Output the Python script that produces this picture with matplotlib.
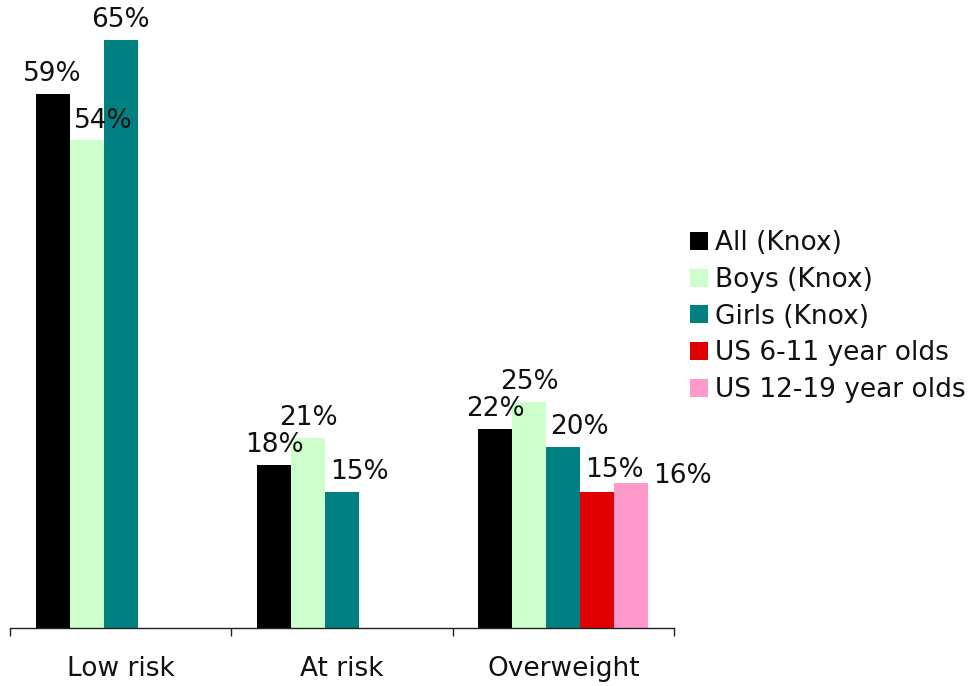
import matplotlib
matplotlib.use("Agg")
import matplotlib.pyplot as plt
from matplotlib.patches import Patch
import numpy as np

categories = ["Low risk", "At risk", "Overweight"]
series_names = ["All (Knox)", "Boys (Knox)", "Girls (Knox)", "US 6-11 year olds", "US 12-19 year olds"]
all_knox = [59, 18, 22]
boys_knox = [54, 21, 25]
girls_knox = [65, 15, 20]
us_6_11 = [None, None, 15]
us_12_19 = [None, None, 16]
series_values = [all_knox, boys_knox, girls_knox, us_6_11, us_12_19]
colors = ["#000000", "#CCFFCC", "#008080", "#E00000", "#FF99CC"]

# label nudges in pixels (dx, dy of baseline above bar top) -- layout only
label_nudge = {
    (0, 1): (17, 12),
    (1, 2): (17, 13),
    (2, 2): (16, 13),
    (2, 3): (17, 15),
    (2, 4): (51, 0),
}

W, H = 973, 686
fig = plt.figure(figsize=(W / 100, H / 100), dpi=100)
plt.rcParams["font.family"] = ["DejaVu Sans"]
FS = 19

px_per_pct = 9.046
ax_left, ax_right, ax_base = 10, 674, 628
ax = fig.add_axes([ax_left / W, (H - ax_base) / H, (ax_right - ax_left) / W, ax_base / H])
ax.set_xlim(-0.5, len(categories) - 0.5)
ax.set_ylim(0, ax_base / px_per_pct)

bw = 34 / ((ax_right - ax_left) / 3)
x = np.arange(len(categories))
nser = len(series_values)
for j, (vals, col, name) in enumerate(zip(series_values, colors, series_names)):
    for i, v in enumerate(vals):
        if v is None:
            continue
        xc = x[i] + (j - (nser - 1) / 2) * bw
        ax.bar(xc, v, width=bw, color=col, edgecolor="none", zorder=2)
        dx, dy = label_nudge.get((i, j), (0, 13))
        ax.annotate(f"{v}%", xy=(xc, v), xytext=(dx * 0.72, dy * 0.72),
                    textcoords="offset points", ha="center", va="baseline",
                    fontsize=FS, color="#111111", annotation_clip=False)

for s in ["left", "right", "top"]:
    ax.spines[s].set_visible(False)
ax.spines["bottom"].set_color("#222222")
ax.spines["bottom"].set_linewidth(1.0)
ax.set_yticks([])
ax.set_xticks(np.arange(-0.5, len(categories), 1.0))
ax.set_xticklabels([])
ax.tick_params(axis="x", which="major", direction="out", length=6, width=1.0, color="#222222")
ax.set_xticks(x, minor=True)
ax.set_xticklabels(categories, minor=True, fontsize=FS, color="#111111")
ax.tick_params(axis="x", which="minor", length=0, pad=20.5)

handles = [Patch(facecolor=c, edgecolor="none") for c in colors]
leg = fig.legend(handles, series_names, loc="upper left",
                 bbox_to_anchor=(690 / W, 1 - 230 / H), frameon=False,
                 fontsize=FS, handlelength=0.68, handleheight=0.68,
                 handletextpad=0.27, labelspacing=0.41, borderaxespad=0,
                 borderpad=0)
for t in leg.get_texts():
    t.set_color("#111111")

fig.savefig("out.png", dpi=100)
